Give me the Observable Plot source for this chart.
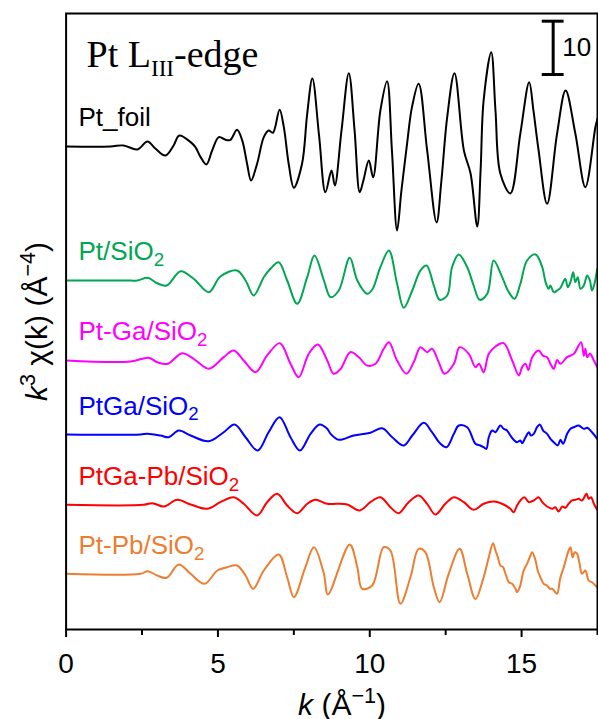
<!DOCTYPE html>
<html><head><meta charset="utf-8">
<script src="https://cdn.jsdelivr.net/npm/d3@7"></script>
<script src="https://cdn.jsdelivr.net/npm/@observablehq/plot@0.6"></script>
<style>body{margin:0;background:#fff;}</style>
</head><body><div id="chart"></div>
<script>
// ---- data ----
const seriesNames = ["Pt_foil", "Pt/SiO2", "Pt-Ga/SiO2", "PtGa/SiO2", "PtGa-Pb/SiO2", "Pt-Pb/SiO2"];
const seriesColors = ["#000000", "#00a651", "#ff00ff", "#0000ff", "#ff0000", "#ed7d31"];
const seriesOffsets = [90.57, 65.44, 50.44, 36.56, 23.38, 10.44];

const ptFoil = [[0,0],[1.46,0],[1.89,0.19],[2.35,-0.56],[2.68,0.94],[2.94,-0.38],[3.27,-1.69],[3.54,0.19],[3.73,2.06],[4.10,0.81],[4.26,-0.13],[4.43,-2.0],[4.62,-3.38],[4.81,-0.75],[5.03,1.74],[5.25,1.25],[5.41,1.25],[5.63,3.13],[5.80,1.13],[5.96,-3.24],[6.09,-6.38],[6.29,-3.24],[6.51,1.74],[6.67,3.0],[6.81,2.57],[7.03,6.88],[7.17,3.62],[7.33,-3.24],[7.50,-7.74],[7.77,-3.24],[7.94,6.13],[8.11,12.75],[8.33,2.06],[8.54,-8.57],[8.74,-4.50],[8.85,-7.31],[9.07,3.0],[9.31,13.75],[9.50,3.0],[9.67,-8.57],[9.79,-6.38],[9.97,-2.63],[10.11,-5.76],[10.35,6.75],[10.57,12.24],[10.73,-0.75],[10.90,-15.75],[11.04,-8.44],[11.23,0.56],[11.39,7.37],[11.61,11.76],[11.89,-0.75],[12.20,-14.25],[12.36,-6.38],[12.55,5.51],[12.79,13.75],[13.10,-0.75],[13.32,-5.07],[13.54,-15.0],[13.65,-4.50],[13.75,8.63],[14.00,17.68],[14.14,6.75],[14.30,-5.07],[14.63,-8.81],[14.96,2.44],[15.25,12.06],[15.39,6.75],[15.56,-0.75],[15.84,-10.75],[16.17,2.44],[16.45,10.5],[16.77,2.44],[17.10,-7.63],[17.43,3.6],[17.50,5.25]];

const ptSiO2 = [[0,0],[1.96,0],[2.34,0],[2.69,0.51],[3.00,-0.51],[3.31,-0.94],[3.77,1.74],[4.20,0.32],[4.70,-2.19],[5.08,0.75],[5.63,1.88],[5.91,0],[6.18,-2.81],[6.51,0.62],[6.73,2.19],[7.00,3.43],[7.28,0],[7.61,-4.37],[7.94,0.62],[8.18,4.69],[8.49,0],[8.71,-3.13],[8.98,-1.88],[9.34,4.26],[9.59,0],[9.91,-2.49],[10.08,-1.74],[10.35,2.49],[10.63,5.63],[10.90,-0.62],[11.12,-5.12],[11.40,-1.88],[11.67,1.88],[11.87,2.81],[12.11,-0.94],[12.30,-3.62],[12.55,-2.81],[12.71,2.49],[12.93,4.88],[13.21,2.49],[13.42,-0.94],[13.62,-3.62],[13.87,-2.49],[14.08,3.75],[14.36,0.62],[14.58,-2.19],[14.77,-3.43],[14.96,-0.62],[15.18,3.75],[15.46,4.88],[15.68,2.49],[15.79,-0.31],[15.89,-1.56],[15.95,-0.94],[16.06,-2.19],[16.17,-1.88],[16.28,-1.37],[16.44,0.32],[16.52,-1.25],[16.61,-0.31],[16.70,1.56],[16.77,-0.31],[16.85,0.62],[16.94,-1.56],[17.05,-0.94],[17.16,0.94],[17.25,0],[17.32,-1.88],[17.40,-0.62],[17.49,2.19]];

const ptGaSiO2 = [[0,0],[2.12,-0.19],[2.72,0.51],[3.00,-0.32],[3.35,-0.62],[3.82,1.37],[4.20,0.32],[4.70,-1.56],[5.19,0.62],[5.52,1.88],[5.85,0],[6.24,-2.19],[6.62,0.94],[7.04,3.25],[7.39,-0.62],[7.66,-3.13],[7.99,1.25],[8.29,3.0],[8.60,0],[8.81,-2.49],[9.04,-1.56],[9.36,1.56],[9.64,0.62],[9.91,-0.94],[10.19,-0.62],[10.46,2.19],[10.63,3.43],[10.90,0],[11.21,-2.49],[11.45,-0.31],[11.67,2.49],[11.89,1.56],[12.05,2.19],[12.27,-0.31],[12.46,-2.49],[12.77,-0.62],[12.96,2.49],[13.26,1.25],[13.48,-1.25],[13.60,-0.6],[13.75,-2.19],[13.92,1.25],[14.14,2.63],[14.41,3.25],[14.69,0],[14.91,-2.81],[15.02,-1.2],[15.13,-0.62],[15.22,-1.8],[15.35,0.62],[15.56,1.88],[15.70,0.9],[15.84,0.62],[15.95,-0.6],[16.06,-1.56],[16.17,0.1],[16.28,-0.62],[16.50,0.62],[16.72,1.25],[16.96,3.43],[17.05,0.9],[17.10,2.2],[17.16,0.62],[17.25,1.3],[17.38,0],[17.49,-1.25]];

const ptGaAlloy = [[0,0],[2.45,0],[2.67,0.13],[3.11,-0.19],[3.38,-0.51],[3.71,0.75],[4.10,-0.19],[4.70,-1.26],[5.19,0.43],[5.55,1.88],[5.91,-0.51],[6.31,-3.0],[6.67,0.43],[7.03,3.25],[7.39,-0.51],[7.70,-3.0],[8.05,0.13],[8.35,1.88],[8.60,1.07],[8.71,0.13],[8.98,-0.99],[9.47,-0.19],[10.02,0.32],[10.41,1.18],[10.74,-0.51],[11.12,-2.06],[11.40,-0.19],[11.78,2.19],[12.05,0.43],[12.33,-1.74],[12.53,-2.38],[12.77,0.13],[12.93,1.69],[13.21,1.37],[13.48,-1.74],[13.64,-2.06],[13.75,-2.38],[13.84,-2.69],[13.92,-0.5],[14.03,0.75],[14.14,0.43],[14.30,1.69],[14.41,1.07],[14.52,0.75],[14.63,-0.19],[14.74,-0.99],[14.85,-1.44],[14.96,-1.13],[15.02,-1.63],[15.13,-0.51],[15.24,0.43],[15.31,-0.19],[15.40,0.13],[15.51,1.37],[15.60,1.88],[15.71,0.75],[15.84,0.13],[15.95,-0.81],[16.06,-1.44],[16.19,-2.06],[16.28,-0.99],[16.37,-1.74],[16.50,0.13],[16.61,1.07],[16.72,1.37],[16.88,1.69],[17.05,1.07],[17.16,1.26],[17.32,0.43],[17.49,-0.81]];

const ptGaPb = [[0,0],[2.56,0],[2.84,0.31],[3.22,-0.32],[3.66,0.94],[4.10,0.06],[4.65,-0.75],[5.08,0.49],[5.52,1.43],[5.85,0.19],[6.29,-1.99],[6.62,0.49],[6.95,2.06],[7.28,-0.13],[7.61,-1.58],[7.94,0.19],[8.21,0.94],[8.60,0.19],[8.93,0.19],[9.26,0.06],[9.67,-1.06],[10.02,0.49],[10.35,1.43],[10.68,-0.45],[10.95,-1.58],[11.28,0.49],[11.61,1.74],[11.89,0.19],[12.16,-1.82],[12.49,0.19],[12.77,1.43],[13.10,0.49],[13.42,-0.94],[13.75,0.19],[14.08,0.62],[14.41,0.06],[14.63,-0.75],[14.74,-1.38],[14.85,-0.13],[14.96,0.81],[15.09,1.43],[15.24,0.49],[15.40,0.81],[15.56,1.43],[15.68,0.49],[15.84,-0.32],[16.01,-0.75],[16.11,-0.45],[16.22,-1.26],[16.34,-0.32],[16.44,-0.56],[16.55,0.19],[16.66,0.81],[16.77,0.94],[16.88,1.12],[16.99,0.81],[17.14,2.06],[17.21,1.12],[17.29,1.43],[17.38,0.19],[17.49,-0.94]];

const ptPbSiO2 = [[0,0],[2.45,0],[2.69,0.49],[3.00,-0.32],[3.31,-0.75],[3.71,1.74],[4.10,0],[4.56,-1.88],[4.98,0.62],[5.30,1.24],[5.63,1.56],[5.91,-0.32],[6.16,-2.81],[6.51,0.62],[7.00,3.62],[7.28,-0.64],[7.50,-4.37],[7.88,1.24],[8.16,4.99],[8.49,0],[8.62,-3.9],[9.34,5.50],[9.59,1.24],[9.75,-2.81],[10.08,-2.19],[10.46,4.99],[10.68,4.37],[11.01,-5.6],[11.34,-0.64],[11.61,4.69],[11.83,4.05],[12.11,-2.51],[12.30,-5.31],[12.60,0],[12.96,4.69],[13.21,0],[13.48,-4.71],[13.75,-0.64],[13.92,3.11],[14.06,5.74],[14.14,4.37],[14.22,3.11],[14.30,1.56],[14.39,1.24],[14.47,0],[14.58,-1.58],[14.69,-1.88],[14.80,-2.81],[14.85,-3.45],[14.94,-2.51],[15.07,0.62],[15.18,1.88],[15.27,3.11],[15.35,4.05],[15.46,2.49],[15.53,0.62],[15.62,-0.64],[15.73,-1.88],[15.84,-2.19],[15.93,-2.81],[16.01,-2.81],[16.11,-3.45],[16.17,-3.75],[16.28,-0.64],[16.39,1.24],[16.48,3.11],[16.55,4.37],[16.61,4.99],[16.68,3.11],[16.75,4.05],[16.83,3.75],[16.91,1.88],[16.99,0],[17.10,0.62],[17.21,-1.26],[17.32,-1.58],[17.43,-2.19],[17.49,-2.51]];

const seriesData = [ptFoil, ptSiO2, ptGaSiO2, ptGaAlloy, ptGaPb, ptPbSiO2];

const xTicks = [0, 5, 10, 15];
const xMinorTicks = [2.5, 7.5, 12.5, 17.5];
const scaleBarValue = 10;
const titleText = "Pt LIII-edge";
const xLabel = "k (Å−1)";
const yLabel = "k3 χ(k) (Å−4)";

// ---- build table ----
const rows = [];
seriesData.forEach((arr, i) => arr.forEach(([k, chi]) => rows.push({series: seriesNames[i], k, y: seriesOffsets[i] + chi})));

const sans = "'Liberation Sans', Arial, sans-serif";
const serif = "'Liberation Serif', 'Times New Roman', serif";
const barK = 16.04, barBottom = 104.06, capHalf = 0.36;

const chart = Plot.plot({
  width: 598, height: 719,
  marginLeft: 65.6, marginRight: 1, marginTop: 13, marginBottom: 90,
  style: {fontFamily: sans, fontSize: "24px", background: "white", overflow: "visible"},
  x: {domain: [0, 17.5], label: null},
  y: {domain: [0, 115.5], axis: null, label: null},
  color: {domain: seriesNames, range: seriesColors},
  marks: [
    Plot.line(rows, {x: "k", y: "y", z: "series", stroke: "series", strokeWidth: 2, curve: "catmull-rom"}),
    Plot.text(seriesNames, {frameAnchor: "left", y: (d, i) => seriesOffsets[i], text: d => d, fill: d => d,
      dx: 12.4, dy: -20, textAnchor: "start", lineAnchor: "bottom", fontSize: 26}),
    // scale bar
    Plot.ruleX([scaleBarValue], {x: barK, y1: barBottom, y2: d => barBottom + d, stroke: "black", strokeWidth: 3}),
    Plot.ruleY([scaleBarValue], {y: barBottom, x1: barK - capHalf, x2: barK + capHalf, stroke: "black", strokeWidth: 3}),
    Plot.ruleY([scaleBarValue], {y: d => barBottom + d, x1: barK - capHalf, x2: barK + capHalf, stroke: "black", strokeWidth: 3}),
    Plot.text([scaleBarValue], {x: barK, y: d => barBottom + d / 2, text: d => String(d), dx: 9, textAnchor: "start", lineAnchor: "middle", fontSize: 26}),
    // title
    Plot.text([titleText], {frameAnchor: "top-left", text: d => d, dx: 20.4, dy: 53, textAnchor: "start", lineAnchor: "bottom", fontSize: 38, fontFamily: serif}),
    // axes
    Plot.axisX({ticks: xTicks, tickSize: 8, tickPadding: 16, fontSize: 28, strokeWidth: 2, label: null}),
    Plot.axisX({ticks: xMinorTicks, tickSize: 6, strokeWidth: 2, tickFormat: () => "", label: null}),
    Plot.text([xLabel], {frameAnchor: "bottom-left", text: d => d, dx: 276, dy: 85, textAnchor: "middle", lineAnchor: "bottom", fontSize: 30}),
    Plot.text([yLabel], {frameAnchor: "left", text: d => d, dx: -19, rotate: -90, textAnchor: "middle", lineAnchor: "bottom", fontSize: 30}),
    Plot.frame({stroke: "black", strokeWidth: 2})
  ]
});
document.getElementById("chart").appendChild(chart);

// ---- rich text (sub/superscripts, italics) ----
const NS = "http://www.w3.org/2000/svg";
const richMap = {};
richMap[titleText] = {fs: 38, parts: [["Pt L"], ["III", "sub", 0.61, 0.24], ["-edge"]]};
richMap[xLabel] = {fs: 30, parts: [["k", "i"], [" (Å"], ["−1", "sup", 0.72, -0.4], [")"]]};
richMap[yLabel] = {fs: 30, parts: [["k", "i"], ["3", "sup", 0.72, -0.4], [" χ(k) (Å"], ["−4", "sup", 0.72, -0.4], [")"]]};
seriesNames.filter(n => n.endsWith("SiO2")).forEach(n => {
  richMap[n] = {fs: 26, parts: [[n.slice(0, -1)], ["2", "sub", 0.72, 0.22]]};
});
chart.querySelectorAll("text").forEach(t => {
  if (t.querySelector("tspan")) return;
  const spec = richMap[t.textContent];
  if (!spec) return;
  t.textContent = "";
  let shift = 0;
  for (const p of spec.parts) {
    const ts = document.createElementNS(NS, "tspan");
    ts.textContent = p[0];
    let target = 0;
    if (p[1] === "i") ts.setAttribute("font-style", "italic");
    if (p[1] === "sub" || p[1] === "sup") {
      ts.setAttribute("font-size", (spec.fs * p[2]).toFixed(1));
      target = p[3] * spec.fs;
    }
    ts.setAttribute("dy", (target - shift).toFixed(2));
    shift = target;
    t.appendChild(ts);
  }
});
</script>
</body></html>
